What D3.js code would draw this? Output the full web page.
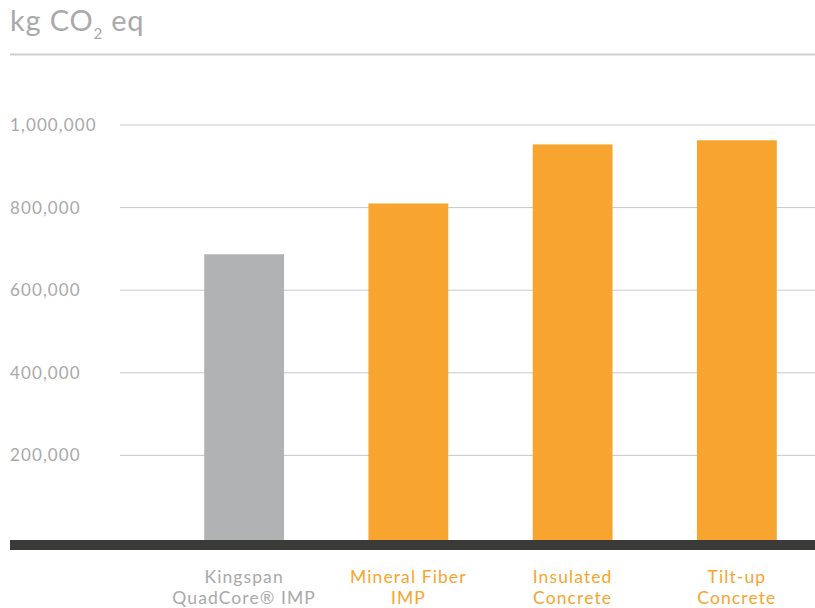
<!DOCTYPE html>
<html>
<head>
<meta charset="utf-8">
<script src="https://cdn.jsdelivr.net/npm/d3@7/dist/d3.min.js"></script>
<style>
  html, body { margin: 0; padding: 0; background: #fff; }
  svg { display: block; font-family: "Lato", "Open Sans", sans-serif; }
</style>
</head>
<body>
<svg id="chart" width="815" height="608"></svg>
<script>
const categories = [["Kingspan", "QuadCore® IMP"], ["Mineral Fiber", "IMP"], ["Insulated", "Concrete"], ["Tilt-up", "Concrete"]];
const values = [687000, 810000, 953000, 963000];
const highlight = [false, true, true, true];
const tickValues = [200000, 400000, 600000, 800000, 1000000];
const tickLabels = ["200,000", "400,000", "600,000", "800,000", "1,000,000"];

const svg = d3.select("#chart");
const W = 815;
const GRAY = "#b1b2b3", ORANGE = "#f7a52e", TEXT = "#a9a9a9";

const y = d3.scaleLinear().domain([0, 1000000]).range([538, 125]);
const x = d3.scaleBand().domain(d3.range(categories.length)).range([162, 819]).paddingInner(0.514).paddingOuter(0.257);

// title
const title = svg.append("text").attr("x", 10).attr("y", 31)
  .attr("fill", TEXT).attr("font-size", 29).attr("letter-spacing", 0.8);
title.append("tspan").text("kg CO");
title.append("tspan").attr("font-size", 15).attr("dy", 8).text("2");
title.append("tspan").attr("dy", -8).text(" eq");

svg.append("line").attr("x1", 10).attr("x2", W).attr("y1", 54.5).attr("y2", 54.5)
  .attr("stroke", "#cfcfcf").attr("stroke-width", 2);

// gridlines
svg.append("g").selectAll("line").data(tickValues).join("line")
  .attr("x1", 120).attr("x2", W)
  .attr("y1", d => y(d)).attr("y2", d => y(d))
  .attr("stroke", "#c8c8c8").attr("stroke-width", 1);

svg.append("g").selectAll("text").data(tickValues).join("text")
  .attr("x", 10).attr("y", d => y(d) + 6)
  .attr("fill", TEXT).attr("font-size", 17).attr("letter-spacing", 1.1)
  .text((d, i) => tickLabels[i]);

// bars
svg.append("g").selectAll("rect").data(values).join("rect")
  .attr("x", (d, i) => x(i)).attr("width", x.bandwidth())
  .attr("y", d => y(d)).attr("height", d => 540 - y(d))
  .attr("fill", (d, i) => highlight[i] ? ORANGE : GRAY);

// baseline
svg.append("rect").attr("x", 10).attr("y", 540).attr("width", W - 10).attr("height", 10).attr("fill", "#3a3a39");

// category labels
const lab = svg.append("g").selectAll("text").data(categories).join("text")
  .attr("text-anchor", "middle").attr("font-size", 17.5).attr("letter-spacing", 1.1)
  .attr("fill", (d, i) => highlight[i] ? ORANGE : TEXT);
lab.each(function(d, i) {
  const t = d3.select(this);
  d.forEach((line, j) => {
    t.append("tspan").attr("x", x(i) + x.bandwidth() / 2).attr("y", 583 + j * 21).text(line);
  });
});
</script>
</body>
</html>
